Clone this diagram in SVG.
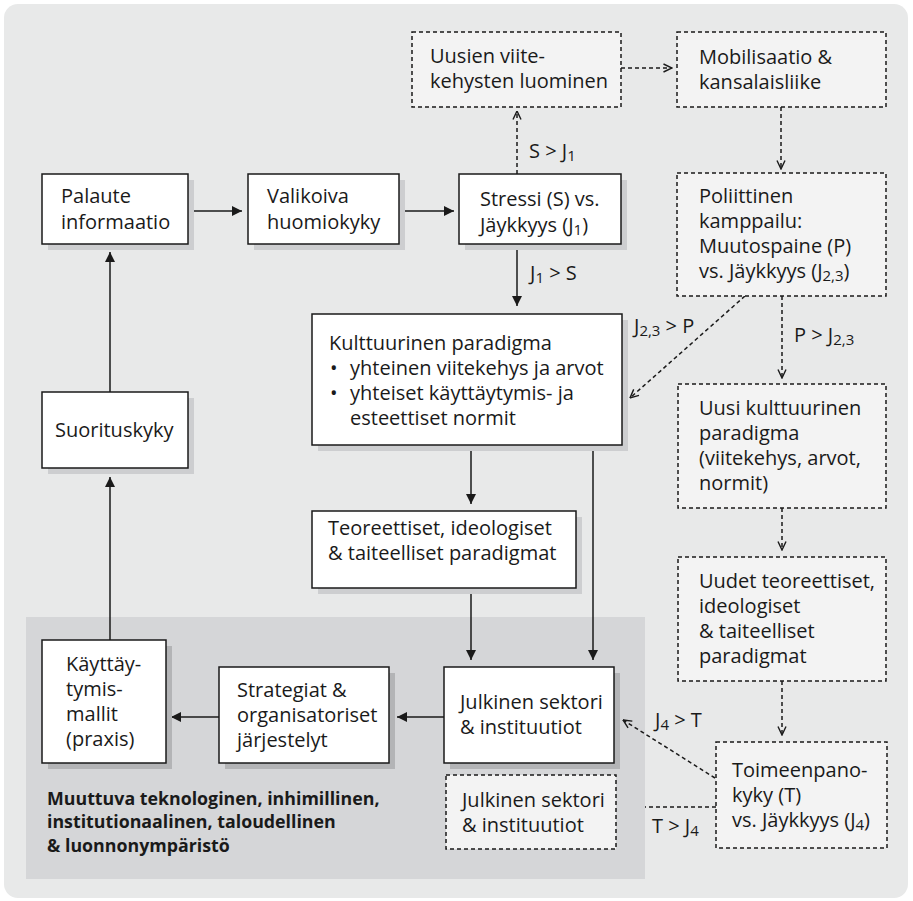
<svg xmlns="http://www.w3.org/2000/svg" width="913" height="901" viewBox="0 0 913 901">
<defs>
<style>
text{font-family:"Open Sans","Liberation Sans",sans-serif;font-size:20px;fill:#1a1a1a}
.bold{font-weight:bold;font-size:17.8px}
.sub{font-size:15px}
.box{fill:#ffffff;stroke:#1a1a1a;stroke-width:1.5}
.dbox{fill:#f3f3f3;stroke:#1a1a1a;stroke-width:1.5;stroke-dasharray:4 3}
.sh{fill:#cdced0}
.sh2{fill:#b3b4b6}
.c{fill:none;stroke:#1a1a1a;stroke-width:1.5}
.cd{fill:none;stroke:#1a1a1a;stroke-width:1.5;stroke-dasharray:4 3}
</style>
<marker id="ah" viewBox="0 0 10 10" refX="10" refY="5" markerWidth="11" markerHeight="10" markerUnits="userSpaceOnUse" orient="auto"><path d="M0,0 L10,5 L0,10 z" fill="#1a1a1a"/></marker>
<marker id="ao" viewBox="0 0 10 10" refX="9.5" refY="5" markerWidth="10" markerHeight="10" markerUnits="userSpaceOnUse" orient="auto"><path d="M1,1 L9.5,5 L1,9" fill="none" stroke="#1a1a1a" stroke-width="1.4"/></marker>
</defs>
<rect x="4" y="4" width="904" height="894" rx="14" fill="#e8e9e9"/>
<rect x="26" y="617" width="619" height="262" fill="#d5d6d8"/>

<g id="connectors">
<path class="c" d="M188,211 L242,211" marker-end="url(#ah)"/>
<path class="c" d="M399,211 L454,211" marker-end="url(#ah)"/>
<path class="cd" d="M517,174 L517,111" marker-end="url(#ao)"/>
<path class="cd" d="M621,68 L672,68" marker-end="url(#ao)"/>
<path class="cd" d="M781,107 L781,169" marker-end="url(#ao)"/>
<path class="c" d="M517,244 L517,306" marker-end="url(#ah)"/>
<path class="cd" d="M745,296 L630,398" marker-end="url(#ao)"/>
<path class="cd" d="M782,296 L782,378" marker-end="url(#ao)"/>
<path class="cd" d="M782,508 L782,550" marker-end="url(#ao)"/>
<path class="cd" d="M782,681 L782,735" marker-end="url(#ao)"/>
<path class="cd" d="M715,778 L623,720" marker-end="url(#ao)"/>
<path class="cd" d="M716,807 L645,807"/>
<path class="c" d="M471,445 L471,504" marker-end="url(#ah)"/>
<path class="c" d="M471,588 L471,660" marker-end="url(#ah)"/>
<path class="c" d="M593,445 L593,660" marker-end="url(#ah)"/>
<path class="c" d="M444,717 L397,717" marker-end="url(#ah)"/>
<path class="c" d="M219,717 L171,717" marker-end="url(#ah)"/>
<path class="c" d="M110,640 L110,477" marker-end="url(#ah)"/>
<path class="c" d="M110,392 L110,252" marker-end="url(#ah)"/>
<text x="529" y="158">S &gt; J<tspan class="sub" dy="3">1</tspan></text>
<text x="530" y="280">J<tspan class="sub" dy="3">1</tspan><tspan dy="-3"> &gt; S</tspan></text>
<text x="634" y="333">J<tspan class="sub" dy="3">2,3</tspan><tspan dy="-3"> &gt; P</tspan></text>
<text x="794" y="342">P &gt; J<tspan class="sub" dy="3">2,3</tspan></text>
<text x="655" y="727">J<tspan class="sub" dy="3">4</tspan><tspan dy="-3"> &gt; T</tspan></text>
<text x="652" y="833">T &gt; J<tspan class="sub" dy="3">4</tspan></text>
</g>

<g id="palaute">
<rect class="sh" x="48" y="180" width="146" height="70"/>
<rect class="box" x="42" y="174" width="146" height="70"/>
<text x="61" y="203">Palaute</text>
<text x="61" y="229">informaatio</text>
</g>
<g id="valikoiva">
<rect class="sh" x="254" y="180" width="151" height="70"/>
<rect class="box" x="248" y="174" width="151" height="70"/>
<text x="267" y="203">Valikoiva</text>
<text x="267" y="229">huomiokyky</text>
</g>
<g id="stressi">
<rect class="sh" x="465" y="180" width="162" height="70"/>
<rect class="box" x="459" y="174" width="162" height="70"/>
<text x="480" y="206">Stressi (S) vs.</text>
<text x="480" y="232">Jäykkyys (J<tspan class="sub" dy="3">1</tspan><tspan dy="-3">)</tspan></text>
</g>
<g id="uusien">
<rect class="dbox" x="412" y="32" width="209" height="75"/>
<text x="430" y="63">Uusien viite-</text>
<text x="430" y="88">kehysten luominen</text>
</g>
<g id="mobilisaatio">
<rect class="dbox" x="677" y="32" width="209" height="75"/>
<text x="699" y="64">Mobilisaatio &amp;</text>
<text x="699" y="89">kansalaisliike</text>
</g>
<g id="poliittinen">
<rect class="dbox" x="677" y="173" width="209" height="123"/>
<text x="699" y="203">Poliittinen</text>
<text x="699" y="228">kamppailu:</text>
<text x="699" y="253">Muutospaine (P)</text>
<text x="699" y="278">vs. Jäykkyys (J<tspan class="sub" dy="3">2,3</tspan><tspan dy="-3">)</tspan></text>
</g>
<g id="suorituskyky">
<rect class="sh" x="48" y="398" width="146" height="76"/>
<rect class="box" x="42" y="392" width="146" height="76"/>
<text x="55" y="437">Suorituskyky</text>
</g>
<g id="kulttuurinen">
<rect class="sh" x="318" y="320" width="310" height="131"/>
<rect class="box" x="312" y="314" width="310" height="131"/>
<text x="329" y="350">Kulttuurinen paradigma</text>
<text x="330" y="375">•</text>
<text x="350" y="375">yhteinen viitekehys ja arvot</text>
<text x="330" y="400">•</text>
<text x="350" y="400">yhteiset käyttäytymis- ja</text>
<text x="350" y="425">esteettiset normit</text>
</g>
<g id="uusi-kulttuurinen">
<rect class="dbox" x="678" y="384" width="208" height="124"/>
<text x="699" y="415">Uusi kulttuurinen</text>
<text x="699" y="440">paradigma</text>
<text x="699" y="465">(viitekehys, arvot,</text>
<text x="699" y="490">normit)</text>
</g>
<g id="teoreettiset">
<rect class="sh" x="318" y="517" width="264" height="77"/>
<rect class="box" x="312" y="511" width="264" height="77"/>
<text x="328" y="535">Teoreettiset, ideologiset</text>
<text x="328" y="560">&amp; taiteelliset paradigmat</text>
</g>
<g id="uudet">
<rect class="dbox" x="678" y="557" width="208" height="124"/>
<text x="699" y="588">Uudet teoreettiset,</text>
<text x="699" y="613">ideologiset</text>
<text x="699" y="638">&amp; taiteelliset</text>
<text x="699" y="663">paradigmat</text>
</g>
<g id="kayttaytymismallit">
<rect class="sh2" x="48" y="646" width="124" height="123"/>
<rect class="box" x="42" y="640" width="124" height="123"/>
<text x="66" y="671">Käyttäy-</text>
<text x="66" y="696">tymis-</text>
<text x="66" y="721">mallit</text>
<text x="66" y="746">(praxis)</text>
</g>
<g id="strategiat">
<rect class="sh2" x="225" y="673" width="170" height="96"/>
<rect class="box" x="219" y="667" width="170" height="96"/>
<text x="237" y="697">Strategiat &amp;</text>
<text x="237" y="722">organisatoriset</text>
<text x="237" y="747">järjestelyt</text>
</g>
<g id="julkinen">
<rect class="sh2" x="450" y="673" width="170" height="96"/>
<rect class="box" x="444" y="667" width="170" height="96"/>
<text x="460" y="709">Julkinen sektori</text>
<text x="460" y="734">&amp; instituutiot</text>
</g>
<g id="julkinen-uusi">
<rect class="dbox" x="446" y="775" width="170" height="74"/>
<text x="462" y="807">Julkinen sektori</text>
<text x="462" y="832">&amp; instituutiot</text>
</g>
<g id="toimeenpano">
<rect class="dbox" x="716" y="742" width="171" height="106"/>
<text x="732" y="777">Toimeenpano-</text>
<text x="732" y="802">kyky (T)</text>
<text x="732" y="827">vs. Jäykkyys (J<tspan class="sub" dy="3">4</tspan><tspan dy="-3">)</tspan></text>
</g>
<g id="ymparisto">
<text class="bold" x="47" y="805">Muuttuva teknologinen, inhimillinen,</text>
<text class="bold" x="47" y="828">institutionaalinen, taloudellinen</text>
<text class="bold" x="47" y="852">&amp; luonnonympäristö</text>
</g>
</svg>
